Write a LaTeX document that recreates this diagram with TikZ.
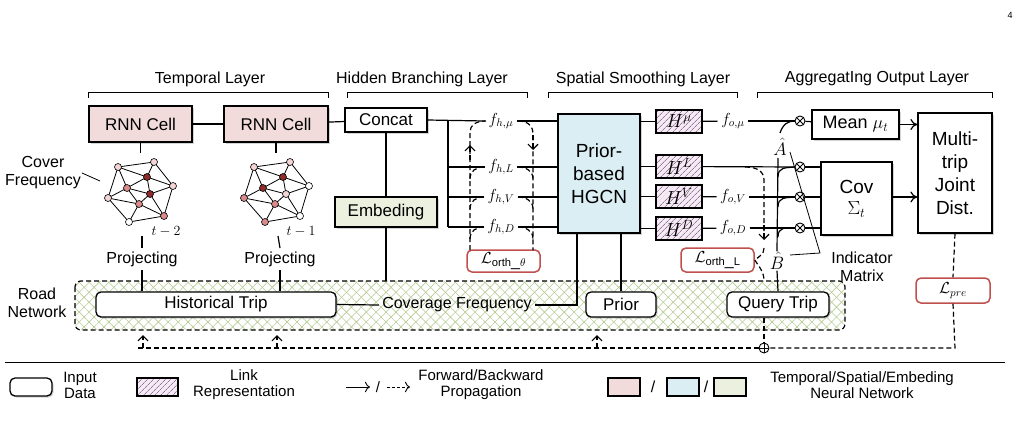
\RequirePackage{fix-cm}
\documentclass[tikz,border=0pt]{standalone}
\usepackage{fontspec}
\setmainfont{Liberation Sans}
\usetikzlibrary{arrows.meta,patterns.meta,shadows}
\definecolor{rnnc}{HTML}{F2DCDB}
\definecolor{hgc}{HTML}{DAEEF3}
\definecolor{embc}{HTML}{EBF1DE}
\definecolor{lossc}{HTML}{C0504D}
\definecolor{cA}{HTML}{FFFFFF}
\definecolor{cB}{HTML}{F4D4D4}
\definecolor{cC}{HTML}{D98A8A}
\definecolor{cD}{HTML}{8E2C2C}
\definecolor{grn}{HTML}{B5CC95}
\newcommand{\mynet}[2]{%
 \begin{scope}[shift={(#1)}]
  \coordinate (A) at (-24,-23); \coordinate (B) at (12,-28); \coordinate (C) at (5,-13);
  \coordinate (D) at (-15,-2); \coordinate (E) at (31,-4); \coordinate (F) at (8,4);
  \coordinate (G) at (-34,8); \coordinate (H) at (-3,14); \coordinate (I) at (22,26);
  \coordinate (J) at (-13,32);
  \draw[line width=0.8pt] (A)--(B)--(E)--(I)--(J)--(G)--(A) (A)--(C)--(B) (C)--(D) (C)--(F) (C)--(E) (E)--(F)--(I) (F)--(H)--(I) (H)--(J) (D)--(H) (D)--(G)--(H) (D)--(F) (A)--(D);
  \foreach \p/\c in {#2} \node[circle,draw,line width=0.6pt,fill=\c,inner sep=0pt,minimum size=7pt] at (\p) {};
 \end{scope}}
\tikzset{
 box/.style={draw,line width=1.3pt,inner sep=0pt,font=\fontsize{17}{19}\selectfont},
 sh/.style={drop shadow={shadow xshift=1.5pt,shadow yshift=-1.5pt,opacity=0.35}},
 rbox/.style={box,rounded corners=5pt,fill=white,sh},
 loss/.style={draw=lossc,line width=1.5pt,rounded corners=5pt,fill=white,inner sep=0pt,font=\fontsize{16}{18}\selectfont},
 hatch/.style={draw,line width=1.3pt,preaction={fill=violet!8},pattern={Lines[angle=45,distance=4pt,line width=0.7pt]},pattern color=violet!35!gray!80},
 ln/.style={line width=1.2pt},
 dsh/.style={line width=1.2pt,dash pattern=on 5pt off 3pt},
 lbl/.style={font=\fontsize{16}{18}\selectfont},
 hd/.style={font=\fontsize{16}{18}\selectfont},
 mth/.style={font=\fontsize{16}{18}\selectfont},
 ar/.style={-{To[length=7pt,width=11pt]}},
 oar/.style={-{Straight Barb[length=5pt,width=10pt]}},
}
\begin{document}
\begin{tikzpicture}[x=1pt,y=-1pt]
\useasboundingbox (0,0) rectangle (1021,421);
\node[font=\fontsize{9}{10}\selectfont] at (1010,15) {4};
% headers
\node[hd] at (210,79) {Temporal Layer};
\node[hd] at (422,79) {Hidden Branching Layer};
\node[hd] at (643,79) {Spatial Smoothing Layer};
\node[hd] at (877,79) {AggregatIng Output Layer};
\draw[line width=0.8pt] (88,98)--(88,92)--(328,92)--(328,98);
\draw[line width=0.8pt] (347,98)--(347,92)--(527,92)--(527,98);
\draw[line width=0.8pt] (548,98)--(548,92)--(737,92)--(737,98);
\draw[line width=0.8pt] (757,98)--(757,92)--(992,92)--(992,98);
% road network region
\fill[pattern={Lines[angle=45,distance=7pt,line width=0.6pt]},pattern color=grn,rounded corners=6pt] (75,281) rectangle (845,330);
\fill[pattern={Lines[angle=-45,distance=7pt,line width=0.6pt]},pattern color=grn,rounded corners=6pt] (75,281) rectangle (845,330);
\draw[dsh,rounded corners=6pt] (75,281) rectangle (845,330);
\node[lbl,align=center] (road) at (37,303) {Road\\Network};
% nodes
\node[box,fill=rnnc,sh,minimum width=103pt,minimum height=36pt] (r1) at (140.5,124) {RNN Cell};
\node[box,fill=rnnc,sh,minimum width=104pt,minimum height=36pt] (r2) at (276,124) {RNN Cell};
\node[box,fill=white,sh,minimum width=82pt,minimum height=24pt] (cc) at (386,120) {Concat};
\node[box,fill=embc,sh,minimum width=102pt,minimum height=30pt] (emb) at (386,212) {Embeding};
\node[box,fill=hgc,sh,minimum width=82pt,minimum height=119pt,align=center,font=\fontsize{19}{23}\selectfont] (hg) at (599,173.5) {Prior-\\based\\HGCN};
\node[rbox,minimum width=240pt,minimum height=25pt] (ht) at (216,304.5) {Historical Trip};
\node[rbox,minimum width=70pt,minimum height=25pt] (pr) at (621,304.5) {Prior};
\node[rbox,minimum width=102pt,minimum height=25pt] (qt) at (778,304.5) {Query Trip};
\node[lbl] (cf) at (457,305) {Coverage Frequency};
\node[lbl,align=center] (cvf) at (43,173) {Cover\\Frequency};
\node[lbl] (p1) at (142,259) {Projecting};
\node[lbl] (p2) at (280,259) {Projecting};
\node[font=\fontsize{14}{16}\selectfont] at (166,232) {$t-2$};
\node[font=\fontsize{14}{16}\selectfont] at (301,232) {$t-1$};
\mynet{142,190}{A/cB,B/cB,C/cD,D/cC,E/cB,F/cD,G/cB,H/cC,I/cC,J/cA}
\mynet{278,190}{A/cB,B/cB,C/cD,D/cD,E/cA,F/cB,G/cC,H/cC,I/cA,J/cC}
\draw[line width=0.8pt] (82,173)--(100,181);
% f_h labels
\foreach \n/\y/\s in {fm/121/\mu,fl/167/L,fv/197/V,fd/227/D}
  \node[mth] (\n) at (501,\y) {$f_{h,\s}$};
% H boxes
\foreach \n/\y/\s in {hm/121.5/\mu,hl/166.5/L,hv/196.5/V,hdd/228.5/D}
  \node[hatch,minimum width=46pt,minimum height=23pt,inner sep=0pt,font=\fontsize{19}{21}\selectfont] (\n) at (679,\y) {$H^{\s}$};
\node[mth] (om) at (733,121) {$f_{o,\mu}$};
\node[mth] (ov) at (733,197) {$f_{o,V}$};
\node[mth] (od) at (733,228) {$f_{o,D}$};
\foreach \n/\y in {x1/121,x2/167,x3/197,x4/228}
  \node[circle,draw,line width=0.9pt,inner sep=0pt,minimum size=10pt] (\n) at (800,\y) {};
\foreach \n in {x1,x2,x3,x4}{\draw[line width=0.8pt] (\n.north west)--(\n.south east) (\n.north east)--(\n.south west);}
\node[box,fill=white,sh,minimum width=87pt,minimum height=29pt,font=\fontsize{18}{20}\selectfont] (mean) at (855.5,124.5) {Mean $\mu_t$};
\node[box,fill=white,sh,minimum width=71pt,minimum height=73pt,align=center,font=\fontsize{19}{21}\selectfont] (cov) at (856.5,198.5) {Cov\\$\Sigma_t$};
\node[box,fill=white,sh,minimum width=74pt,minimum height=120pt,align=center,font=\fontsize{19}{23}\selectfont] (mt) at (955,173) {Multi-\\trip\\Joint\\Dist.};
\node[font=\fontsize{18}{20}\selectfont,inner sep=1pt] (ah) at (780,147) {$\hat{A}$};
\node[font=\fontsize{18}{20}\selectfont,inner sep=1pt] (bh) at (777,261) {$\hat{B}$};
\node[lbl,align=center] (im) at (862,267) {Indicator\\Matrix};
\node[loss,minimum width=73pt,minimum height=22pt] (lt) at (503.5,261) {$\mathcal{L}_{\mathrm{orth\_}\theta}$};
\node[loss,minimum width=73pt,minimum height=24pt] (ll) at (717.5,260) {$\mathcal{L}_{\mathrm{orth\_L}}$};
\node[loss,minimum width=74pt,minimum height=25pt] (lp) at (953,290.5) {$\mathcal{L}_{pre}$};
\node[circle,draw,line width=0.9pt,inner sep=0pt,minimum size=10pt,fill=white] (op) at (764,348) {};
\draw[line width=0.8pt] (op.north)--(op.south) (op.west)--(op.east);
% solid connectors
\draw[ln] (r1)--(r2); \draw[ln] (r2)--(cc);
\draw[ln] (r1.south)--++(0,10); \draw[ln] (r2.south)--++(0,10);
\draw[ln] (142,236)--(p1.north); \draw[ln] (278,236)--(p2.north);
\draw[ln] (p1.south)--(p1.south|-ht.north); \draw[ln] (p2.south)--(p2.south|-ht.north);
\draw[ln] (cc)--(emb); \draw[ln] (emb.south)--(386,281);
\draw[ln] (cc.east)--(fm.west);
\draw[ln] (448,121)--(448,227);
\foreach \n in {fl,fv,fd} \draw[ln] (448,0|-\n.west)--(\n.west);
\foreach \a/\y in {fm/121,fl/167,fv/197,fd/227} \draw[ln] (\a.east)--(558,\y);
\foreach \a in {hm,hl,hv,hdd} \draw[ln] (hg.east|-\a)--(\a.west);
\draw[ln] (hm)--(om); \draw[ln] (om)--(x1);
\draw[ln] (hl)--(x2);
\draw[ln] (hv)--(ov); \draw[ln] (ov)--(x3);
\draw[ln] (hdd)--(od); \draw[ln] (od)--(x4);
\draw[ln] (x1)--(mean); \draw[ln] (x2)--(x2-|cov.west); \draw[ln] (x3)--(cov.west|-x3); \draw[ln] (x4)--(x4-|cov.west);
\draw[ln,ar] (mean.east)--(mt.west|-mean.east);
\draw[ln,ar] (cov.east|-x3)--(mt.west|-x3);
\draw[ln] (ht.east)--(cf.west);
\draw[ln] (cf.east)--(577,305)--(577,233);
\draw[ln] (pr.north)--(pr.north|-hg.south);
\draw[ln] (778,158)--(bh.north); \draw[ln] (bh.south)--(qt.north);
\draw[ln] (780,133) .. controls (783,124) and (788,121) .. (x1.west);
\foreach \y/\n in {177/x2,207/x3,237/x4} \draw[ln] (778,\y) .. controls (778,\y-10) and (785,\y-9) .. (\n.west);
\draw[line width=0.8pt] (790,152)--(820,253)--(790,255);
% dashed
\draw[dsh] (470,250)--(470,132) .. controls (470,125) and (476,121) .. (486,121);
\draw[dsh,oar] (470,160)--(470,145);
\foreach \y in {167,197,227} \draw[dsh] (470,\y+12) .. controls (470,\y+4) and (476,\y) .. (484,\y);
\draw[dsh] (518,121) .. controls (528,121) and (533,126) .. (533,134)--(533,250);
\draw[dsh,oar] (533,135)--(533,150);
\foreach \y in {167,197,227} \draw[dsh] (518,\y) .. controls (526,\y) and (533,\y+4) .. (533,\y+12);
\draw[dsh] (745,167) .. controls (758,167) and (764,172) .. (764,180)--(764,240);
\draw[dsh,oar] (764,225)--(764,240);
\draw[dsh] (764,248) .. controls (764,254) and (760,256) .. (ll.east);
\draw[dsh] (ll.east) .. controls (760,268) and (764,272) .. (764,281);
\draw[dsh] (qt.south-|op.north)--(op.north);
\draw[dsh] (mt.south)--(lp.north);
\draw[dsh] (lp.south)--(955,348)--(op.east);
\draw[dsh] (op.west)--(138,348);
\foreach \x in {143,277,597} \draw[dsh,oar] (\x,348)--(\x,335);
% rule and legend
\draw[line width=0.8pt] (5,362)--(1005,362);
\node[rbox,minimum width=42pt,minimum height=18pt] (lg1) at (31,387) {};
\node[lbl,align=center,font=\fontsize{15}{16}\selectfont] at (80,385) {Input\\Data};
\node[hatch,minimum width=41pt,minimum height=18pt] (lg2) at (157.5,387) {};
\node[lbl,align=center,font=\fontsize{15}{16}\selectfont] at (244,385) {Link\\Representation};
\coordinate (a1) at (346,387); \coordinate (a2) at (370,387);
\draw[line width=0.9pt,-{To[length=5pt]}] (a1)--(a2);
\node[font=\fontsize{15}{17}\selectfont] at (378,387) {/};
\coordinate (a3) at (387,387); \coordinate (a4) at (410,387);
\draw[line width=0.9pt,dash pattern=on 3pt off 2pt,-{To[length=5pt]}] (a3)--(a4);
\node[lbl,align=center,font=\fontsize{15}{16}\selectfont] at (481,385) {Forward/Backward\\Propagation};
\node[box,fill=rnnc,minimum width=32pt,minimum height=18pt] (lg3) at (624,387) {};
\node[font=\fontsize{16}{18}\selectfont] at (653,387) {/};
\node[box,fill=hgc,minimum width=32pt,minimum height=18pt] (lg4) at (683,387) {};
\node[font=\fontsize{16}{18}\selectfont] at (706,387) {/};
\node[box,fill=embc,minimum width=32pt,minimum height=18pt] (lg5) at (730,387) {};
\node[lbl,align=center,font=\fontsize{15}{16}\selectfont] at (862,385) {Temporal/Spatial/Embeding\\Neural Network};
\end{tikzpicture}
\end{document}
